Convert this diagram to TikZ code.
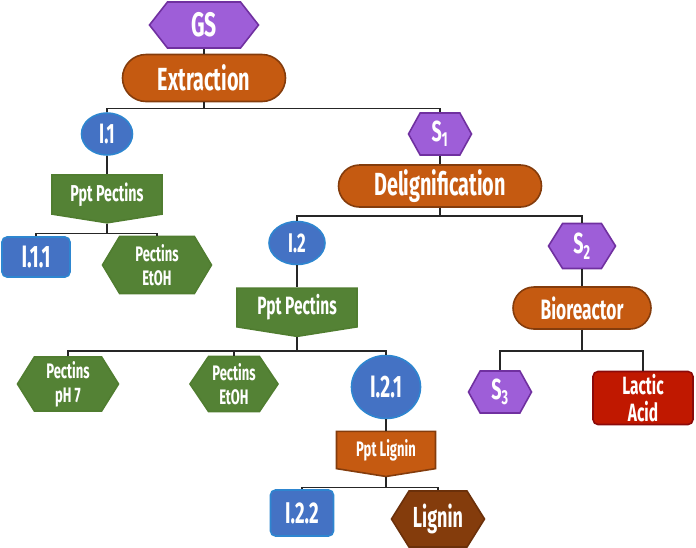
\documentclass[tikz,border=0pt]{standalone}
\usepackage{fontspec}
\setmainfont{Fira Sans}[FakeStretch=0.62]
\usetikzlibrary{shapes.geometric,shapes.symbols,shapes.misc}
\definecolor{purpF}{HTML}{9E5ED8}
\definecolor{purpD}{HTML}{7030A0}
\definecolor{orngF}{HTML}{C55A11}
\definecolor{orngD}{HTML}{843C0C}
\definecolor{bluF}{HTML}{4472C4}
\definecolor{bluD}{HTML}{2E86D0}
\definecolor{grnF}{HTML}{548235}
\definecolor{grnD}{HTML}{507D30}
\definecolor{brnF}{HTML}{843C0C}
\definecolor{brnD}{HTML}{6B300A}
\definecolor{redF}{HTML}{C01800}
\definecolor{redD}{HTML}{8B0A0A}
\newcommand{\sz}[1]{\fontsize{#1}{#1}\selectfont\bfseries}

\begin{document}
\begin{tikzpicture}[x=1pt, y=-1pt,
    base/.style={text=white, inner sep=0pt, line width=1.6pt, align=center},
    hexa/.style={base, signal, signal to=east and west, signal pointer angle=116,
                 fill=purpF, draw=purpD},
    pill/.style={base, rounded rectangle, fill=orngF, draw=orngD},
    banner/.style={base, signal, signal to=south, signal from=nowhere,
                   signal pointer angle=162, fill=grnF, draw=grnD},
    oval/.style={base, ellipse, fill=bluF, draw=bluD},
    tag/.style={base, rectangle, rounded corners=5pt, fill=bluF, draw=bluD},
    wire/.style={line width=1.4pt, draw=black!85}]
    \useasboundingbox (0,0) rectangle (696,547);
    % top level
    \node[hexa, signal pointer angle=104, minimum width=109, minimum height=46, font=\sz{34}] (gs) at (204,25) {GS};
    \node[pill, minimum width=163, minimum height=47, font=\sz{32}] (ext) at (204,78) {Extraction};
    % left branch
    \node[oval, minimum width=51, minimum height=42, font=\sz{28}] (i1) at (107,134) {I.1};
    \node[banner, minimum width=110, minimum height=45, font=\sz{23}] (pp1) at (107,194.5) {Ppt Pectins};
    \node[tag, minimum width=68, minimum height=40, font=\sz{31}] (i11) at (36,257) {I.1.1};
    \node[hexa, signal pointer angle=118, minimum width=109, minimum height=57, fill=grnF, draw=grnD,
          font=\fontsize{21}{24}\selectfont\bfseries] (et1) at (157,265) {Pectins\\EtOH};
    % right branch
    \node[hexa, signal pointer angle=122, minimum width=63, minimum height=42, font=\sz{29}] (s1) at (440,134) {S\textsubscript{1}};
    \node[pill, minimum width=203, minimum height=42, font=\sz{32}] (del) at (440,186) {Delignification};
    \node[oval, minimum width=56, minimum height=43, font=\sz{27}] (i2) at (297,243) {I.2};
    \node[banner, minimum width=120, minimum height=45, font=\sz{25}] (pp2) at (297,307.5) {Ppt Pectins};
    \node[hexa, minimum width=101, minimum height=54, fill=grnF, draw=grnD,
          font=\fontsize{21}{24}\selectfont\bfseries] (ph7) at (68,384) {Pectins\\pH 7};
    \node[hexa, signal pointer angle=112, minimum width=88, minimum height=55, fill=grnF, draw=grnD,
          font=\fontsize{21}{24}\selectfont\bfseries] (et2) at (234,384) {Pectins\\EtOH};
    \node[oval, minimum width=69, minimum height=63, font=\sz{31}] (i21) at (386,387) {I.2.1};
    \node[banner, minimum width=99, minimum height=42, fill=orngF, draw=orngD, font=\sz{21}] (ppl) at (386,450) {Ppt Lignin};
    \node[tag, minimum width=63, minimum height=46, font=\sz{30}] (i22) at (302,513) {I.2.2};
    \node[hexa, minimum width=93, minimum height=56, fill=brnF, draw=brnD, font=\sz{29}] (lig) at (438,519) {Lignin};
    \node[hexa, minimum width=67, minimum height=45, font=\sz{29}] (s2) at (582,246) {S\textsubscript{2}};
    \node[pill, minimum width=138, minimum height=42, font=\sz{28}] (bio) at (582,308) {Bioreactor};
    \node[hexa, signal pointer angle=122, minimum width=63, minimum height=42, font=\sz{29}] (s3) at (500,392) {S\textsubscript{3}};
    \node[tag, minimum width=100, minimum height=53, fill=redF, draw=redD,
          font=\fontsize{25}{27}\selectfont\bfseries] (lac) at (643,398) {Lactic\\Acid};
    % connectors
    \draw[wire] (gs.south) -- (ext.north);
    \draw[wire] (ext.south) -- ++(0,6) -| (i1.north);
    \draw[wire] (ext.south) -- ++(0,6) -| (s1.north);
    \draw[wire] (i1.south) -- (pp1.north);
    \draw[wire] (pp1.south) -- ++(0,10) -| (i11.north);
    \draw[wire] (pp1.south) -- ++(0,10) -| (et1.north);
    \draw[wire] (s1.south) -- (del.north);
    \draw[wire] (del.south) -- ++(0,8) -| (i2.north);
    \draw[wire] (del.south) -- ++(0,8) -| (s2.north);
    \draw[wire] (i2.south) -- (pp2.north);
    \draw[wire] (pp2.south) -- ++(0,14) -| (ph7.north);
    \draw[wire] (pp2.south) -- ++(0,14) -| (et2.north);
    \draw[wire] (pp2.south) -- ++(0,14) -| (i21.north);
    \draw[wire] (i21.south) -- (ppl.north);
    \draw[wire] (ppl.south) -- ++(0,10) -| (i22.north);
    \draw[wire] (ppl.south) -- ++(0,10) -| (lig.north);
    \draw[wire] (s2.south) -- (bio.north);
    \draw[wire] (bio.south) -- ++(0,21) -| (s3.north);
    \draw[wire] (bio.south) -- ++(0,21) -| (lac.north);
\end{tikzpicture}
\end{document}
